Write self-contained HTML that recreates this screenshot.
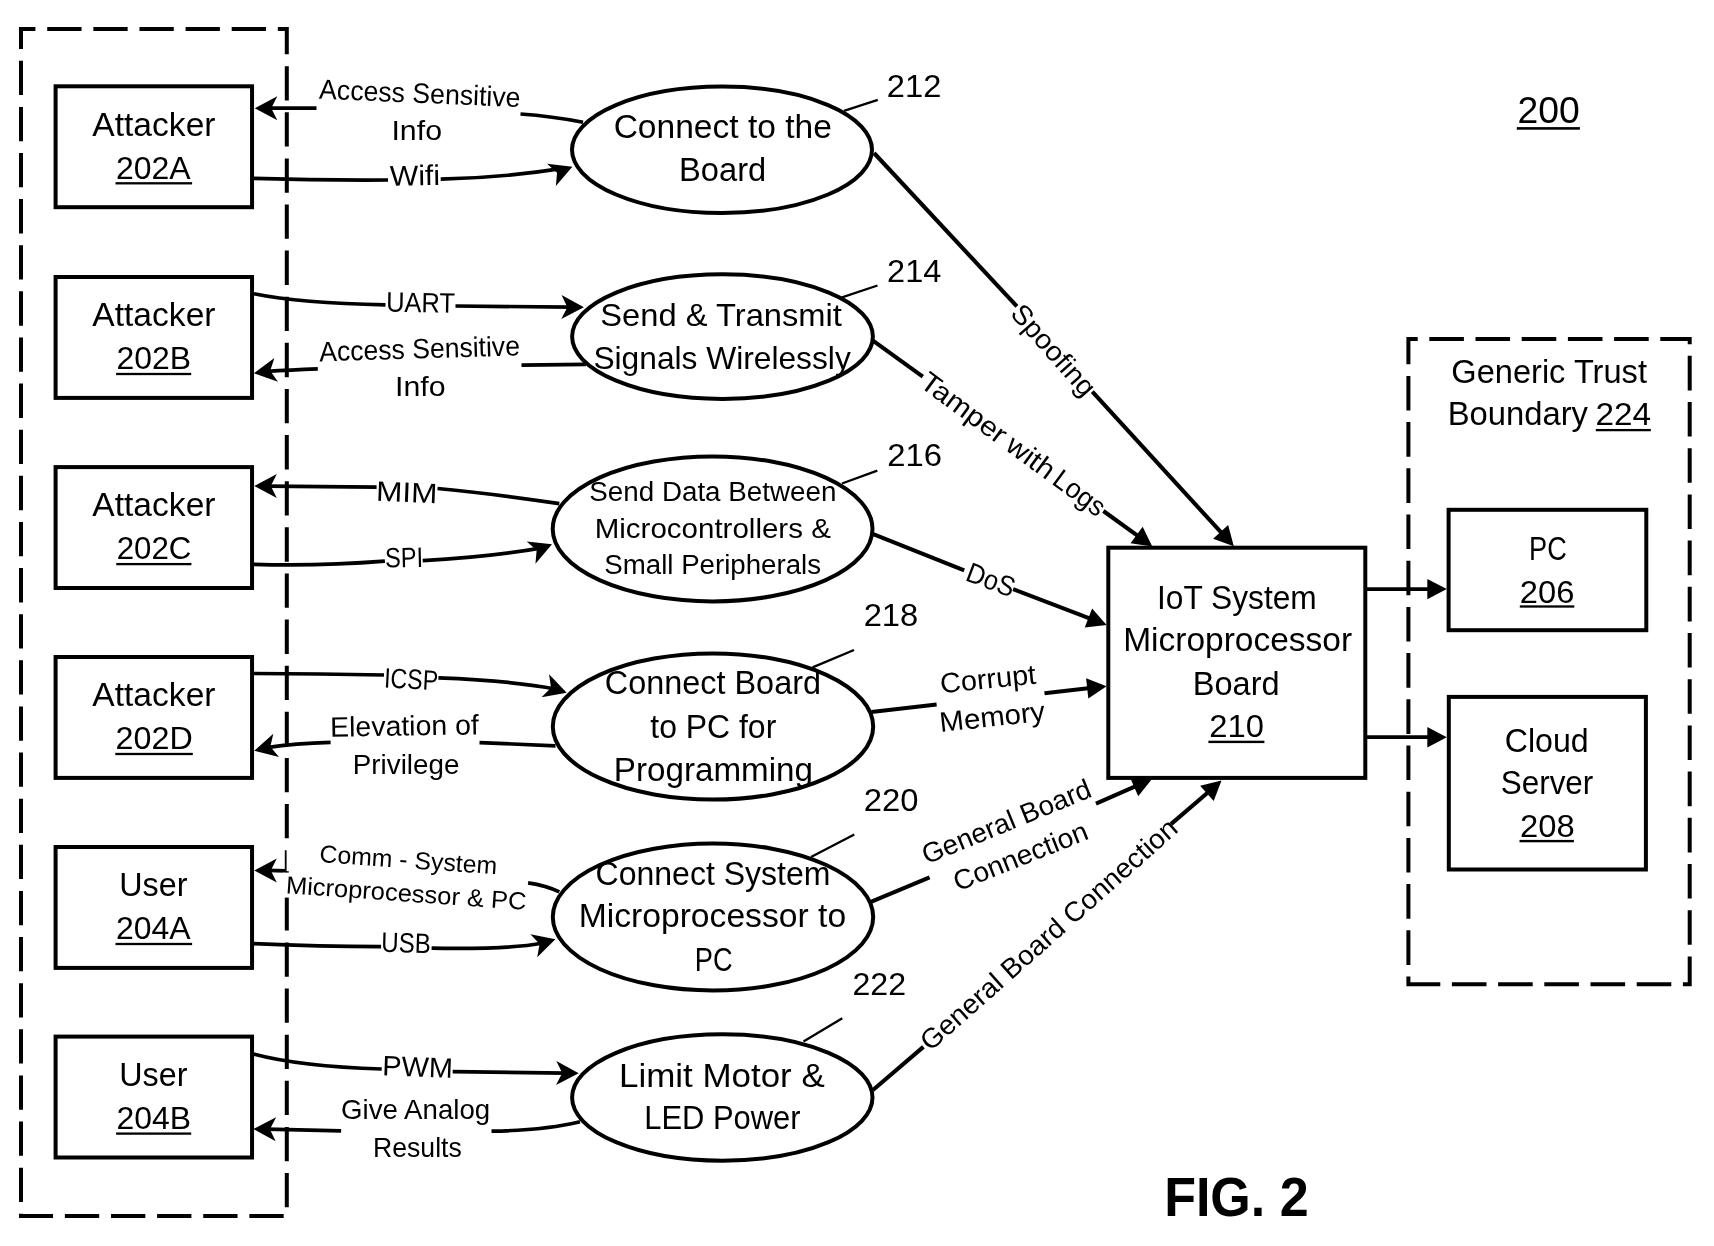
<!DOCTYPE html>
<html><head><meta charset="utf-8"><title>FIG. 2</title>
<style>
html,body{margin:0;padding:0;background:#fff;}
body{width:1714px;height:1246px;overflow:hidden;}
svg{display:block;filter:blur(0.3px);}
text{font-family:"Liberation Sans",sans-serif;white-space:pre;}
</style></head><body>
<svg width="1714" height="1246" viewBox="0 0 1714 1246">
<rect x="0" y="0" width="1714" height="1246" fill="#ffffff"/>
<path d="M21 29 H286.8 V1216 H21 Z" fill="none" stroke="#000000" stroke-width="4" stroke-dasharray="34.3 11.82" stroke-dashoffset="19.9"/>
<path d="M1408.4 986.2 V339 H1689.7 V984.2 H1408.4" fill="none" stroke="#000000" stroke-width="4" stroke-dasharray="34.6 11.6" stroke-dashoffset="24.9"/>
<rect x="55.6" y="86.3" width="196.45" height="120.9" fill="none" stroke="#000000" stroke-width="4"/>
<rect x="55.6" y="277" width="196.45" height="120.9" fill="none" stroke="#000000" stroke-width="4"/>
<rect x="55.6" y="467.1" width="196.45" height="120.9" fill="none" stroke="#000000" stroke-width="4"/>
<rect x="55.6" y="657" width="196.45" height="120.9" fill="none" stroke="#000000" stroke-width="4"/>
<rect x="55.6" y="847" width="196.45" height="120.9" fill="none" stroke="#000000" stroke-width="4"/>
<rect x="55.6" y="1036.6" width="196.45" height="120.9" fill="none" stroke="#000000" stroke-width="4"/>
<rect x="1108.3" y="547.7" width="257" height="230.2" fill="none" stroke="#000000" stroke-width="4"/>
<rect x="1448.6" y="509.8" width="197.7" height="120.4" fill="none" stroke="#000000" stroke-width="4"/>
<rect x="1448.8" y="696.9" width="197.1" height="172.6" fill="none" stroke="#000000" stroke-width="4"/>
<ellipse cx="722" cy="149.8" rx="150" ry="63.2" fill="none" stroke="#000000" stroke-width="4"/>
<ellipse cx="722.5" cy="336.6" rx="150.4" ry="62.3" fill="none" stroke="#000000" stroke-width="4"/>
<ellipse cx="712.6" cy="528.9" rx="159.9" ry="72.5" fill="none" stroke="#000000" stroke-width="4"/>
<ellipse cx="713" cy="726.5" rx="160.2" ry="73.1" fill="none" stroke="#000000" stroke-width="4"/>
<ellipse cx="713" cy="917" rx="160.2" ry="73.5" fill="none" stroke="#000000" stroke-width="4"/>
<ellipse cx="722.3" cy="1097.5" rx="150.2" ry="63.2" fill="none" stroke="#000000" stroke-width="4"/>
<path d="M583 122.2 Q552 116.2 520.5 114" fill="none" stroke="#000000" stroke-width="3.7" />
<path d="M316.5 108.2 L268 108.2" fill="none" stroke="#000000" stroke-width="3.7" />
<polygon points="254.8,108.2 277.3,96.2 271.3,108.2 277.3,120.2" fill="#000000"/>
<path d="M253.9 178.4 Q320 180.4 388 180" fill="none" stroke="#000000" stroke-width="3.7" />
<path d="M440.7 179.2 Q504 177.7 564.5 168.2" fill="none" stroke="#000000" stroke-width="3.7" />
<polygon points="572.4,166.7 555.86,186.11 557.05,172.75 547.07,163.78" fill="#000000"/>
<path d="M253.9 293.8 Q300 303.2 385.5 304.8" fill="none" stroke="#000000" stroke-width="3.7" />
<path d="M455.5 306 L570.9 307.16" fill="none" stroke="#000000" stroke-width="3.7" />
<polygon points="583.9,307.3 561.28,319.06 567.4,307.13 561.53,295.07" fill="#000000"/>
<path d="M586 364.3 L521.5 365.2" fill="none" stroke="#000000" stroke-width="3.7" />
<path d="M317.8 368.8 Q290 369.8 266.76 371.38" fill="none" stroke="#000000" stroke-width="3.7" />
<polygon points="253.9,373.3 274.38,358.11 270.22,370.86 277.93,381.84" fill="#000000"/>
<path d="M559.3 503.7 Q493.6 493.7 437.5 488.5" fill="none" stroke="#000000" stroke-width="3.7" />
<path d="M376.6 487.2 L267.3 486.1" fill="none" stroke="#000000" stroke-width="3.7" />
<polygon points="254.3,486.1 276.8,474.1 270.8,486.1 276.8,498.1" fill="#000000"/>
<path d="M253.9 564.4 Q320 566.3 384.9 561.2" fill="none" stroke="#000000" stroke-width="3.7" />
<path d="M422.7 560.6 Q490 556.9 543.63 547.6" fill="none" stroke="#000000" stroke-width="3.7" />
<polygon points="552,544.3 535.46,563.71 536.65,550.35 526.67,541.38" fill="#000000"/>
<path d="M253.9 673.5 Q320 673.8 384 675" fill="none" stroke="#000000" stroke-width="3.7" />
<path d="M438.4 677.9 Q510 680.5 554.35 688.74" fill="none" stroke="#000000" stroke-width="3.7" />
<polygon points="566.7,692.8 541.58,697.17 551.03,687.65 549.07,674.37" fill="#000000"/>
<path d="M555.5 745.8 L479.5 742.6" fill="none" stroke="#000000" stroke-width="3.7" />
<path d="M330.6 742.4 Q295 743.5 266.93 747.62" fill="none" stroke="#000000" stroke-width="3.7" />
<polygon points="254.3,750.7 273.32,733.71 270.33,746.79 279,757.03" fill="#000000"/>
<path d="M559.3 891.8 Q546 885.5 528.1 882.8" fill="none" stroke="#000000" stroke-width="3.7" />
<path d="M286 870.8 L267.3 870.4" fill="none" stroke="#000000" stroke-width="3.7" />
<polygon points="254.3,870.4 276.8,858.4 270.8,870.4 276.8,882.4" fill="#000000"/>
<path d="M253.9 943.7 Q320 946.5 381.1 946.7" fill="none" stroke="#000000" stroke-width="3.7" />
<path d="M431.6 948.2 Q510 949.5 542.94 942.99" fill="none" stroke="#000000" stroke-width="3.7" />
<polygon points="555.4,939.3 537.23,957.2 539.58,943.99 530.42,934.18" fill="#000000"/>
<path d="M253.4 1054 Q300 1066.5 381.7 1069" fill="none" stroke="#000000" stroke-width="3.7" />
<path d="M452.7 1071.6 L565.7 1073.12" fill="none" stroke="#000000" stroke-width="3.7" />
<polygon points="578.7,1073.3 556.03,1084.98 562.2,1073.07 556.37,1060.99" fill="#000000"/>
<path d="M580 1121.7 Q545 1130.2 491.5 1131.2" fill="none" stroke="#000000" stroke-width="3.7" />
<path d="M341.1 1130.8 L266.4 1129.17" fill="none" stroke="#000000" stroke-width="3.7" />
<polygon points="253.4,1128.9 276.15,1117.37 269.9,1129.25 275.64,1141.37" fill="#000000"/>
<path d="M874 153 L1016.9 306.4" fill="none" stroke="#000000" stroke-width="4.1" />
<path d="M1092.3 391.7 L1225.7 537.45" fill="none" stroke="#000000" stroke-width="4.1" />
<polygon points="1233.8,546.3 1213.11,538.8 1228.16,525.03" fill="#000000"/>
<path d="M872.6 340.3 L922.8 376.7" fill="none" stroke="#000000" stroke-width="4.1" />
<path d="M1103.4 511 L1142.64 539.38" fill="none" stroke="#000000" stroke-width="4.1" />
<polygon points="1152.3,546.5 1130.55,543.14 1142.66,526.72" fill="#000000"/>
<path d="M872.6 533.9 L964.2 570.3" fill="none" stroke="#000000" stroke-width="4.1" />
<path d="M1013.1 589.1 L1095.42 620.65" fill="none" stroke="#000000" stroke-width="4.1" />
<polygon points="1106.6,625 1084.73,627.43 1092.13,608.42" fill="#000000"/>
<path d="M871.4 712 L936.6 704.5" fill="none" stroke="#000000" stroke-width="4.1" />
<path d="M1044.5 693.2 L1094.67 687.51" fill="none" stroke="#000000" stroke-width="4.1" />
<polygon points="1106.6,686.2 1088.33,698.47 1086.1,678.19" fill="#000000"/>
<path d="M870.9 901.9 L929.6 877.3" fill="none" stroke="#000000" stroke-width="4.1" />
<path d="M1096 803.7 L1141 783.9" fill="none" stroke="#000000" stroke-width="4.1" />
<polygon points="1152,779.1 1138.21,796.25 1130.05,777.56" fill="#000000"/>
<path d="M873 1090 L923.4 1046.9" fill="none" stroke="#000000" stroke-width="4.1" />
<path d="M1171 824.1 L1212.53 788.47" fill="none" stroke="#000000" stroke-width="4.1" />
<polygon points="1221.5,780.5 1213.69,801.08 1200.15,785.82" fill="#000000"/>
<path d="M1367 589.1 L1432 589.1" fill="none" stroke="#000000" stroke-width="3.7" />
<polygon points="1446.8,589.1 1427.3,599.3 1427.3,578.9" fill="#000000"/>
<path d="M1367 737.2 L1432 737.2" fill="none" stroke="#000000" stroke-width="3.7" />
<polygon points="1446.8,737.2 1427.3,747.4 1427.3,727" fill="#000000"/>
<path d="M844 110.8 L877.8 99.9" fill="none" stroke="#000000" stroke-width="2.3" />
<path d="M842 297.3 L877.5 285.5" fill="none" stroke="#000000" stroke-width="2.3" />
<path d="M842 483.5 L877.3 470.7" fill="none" stroke="#000000" stroke-width="2.3" />
<path d="M812.6 667.4 L854 650" fill="none" stroke="#000000" stroke-width="2.3" />
<path d="M811 856.9 L854.3 834.4" fill="none" stroke="#000000" stroke-width="2.3" />
<path d="M803.5 1041.5 L842.3 1018.2" fill="none" stroke="#000000" stroke-width="2.3" />
<text transform="translate(92.3 135.6) translate(0 0) scale(1.0368 1)" font-size="32.41" fill="#000000">Attacker</text>
<text transform="translate(117.4 178.6) translate(-1.5 0) scale(1.0156 1)" font-size="31.47" fill="#000000">202A</text>
<rect x="115.5" y="182.15" width="76.6" height="2.3" fill="#000000"/>
<text transform="translate(92.3 326.3) translate(0 0) scale(1.0368 1)" font-size="32.41" fill="#000000">Attacker</text>
<text transform="translate(118 369.3) translate(-1.5 0) scale(1.0142 1)" font-size="31.47" fill="#000000">202B</text>
<rect x="116.1" y="372.85" width="75.1" height="2.3" fill="#000000"/>
<text transform="translate(92.3 516.4) translate(0 0) scale(1.0368 1)" font-size="32.41" fill="#000000">Attacker</text>
<text transform="translate(118.1 559.4) translate(-1.47 0) scale(0.9936 1)" font-size="31.47" fill="#000000">202C</text>
<rect x="116.3" y="562.95" width="75.1" height="2.3" fill="#000000"/>
<text transform="translate(92.3 706.3) translate(0 0) scale(1.0368 1)" font-size="32.41" fill="#000000">Attacker</text>
<text transform="translate(117.1 749.3) translate(-1.51 0) scale(1.0253 1)" font-size="31.47" fill="#000000">202D</text>
<rect x="115.3" y="752.85" width="77.5" height="2.3" fill="#000000"/>
<text transform="translate(121.3 896.3) translate(-2.02 0) scale(0.9962 1)" font-size="32.41" fill="#000000">User</text>
<text transform="translate(117.4 939.3) translate(-1.5 0) scale(1.0156 1)" font-size="31.47" fill="#000000">204A</text>
<rect x="115.5" y="942.85" width="76.6" height="2.3" fill="#000000"/>
<text transform="translate(121.3 1085.9) translate(-2.02 0) scale(0.9962 1)" font-size="32.41" fill="#000000">User</text>
<text transform="translate(118 1128.9) translate(-1.5 0) scale(1.0142 1)" font-size="31.47" fill="#000000">204B</text>
<rect x="116.1" y="1132.45" width="75.1" height="2.3" fill="#000000"/>
<text transform="translate(615.2 138.3) translate(-1.57 0) scale(1.0356 1)" font-size="32.41" fill="#000000">Connect to the</text>
<text transform="translate(681.6 181.4) translate(-2.55 0) scale(1.0080 1)" font-size="32.41" fill="#000000">Board</text>
<text transform="translate(601.3 325.8) translate(-1.02 0) scale(1.0226 1)" font-size="31.98" fill="#000000">Send &amp; Transmit</text>
<text transform="translate(594.4 368.7) translate(-0.99 0) scale(0.9921 1)" font-size="31.98" fill="#000000">Signals Wirelessly</text>
<text transform="translate(590.2 500.8) translate(-0.87 0) scale(1.0060 1)" font-size="27.62" fill="#000000">Send Data Between</text>
<text transform="translate(597 537.6) translate(-2.31 0) scale(1.0685 1)" font-size="27.62" fill="#000000">Microcontrollers &amp;</text>
<text transform="translate(605.2 574) translate(-0.86 0) scale(1.0015 1)" font-size="27.62" fill="#000000">Small Peripherals</text>
<text transform="translate(606.3 694.4) translate(-1.52 0) scale(1.0001 1)" font-size="32.41" fill="#000000">Connect Board</text>
<text transform="translate(650.3 738.1) translate(0 0) scale(0.9856 1)" font-size="32.41" fill="#000000">to PC for</text>
<text transform="translate(616.4 780.5) translate(-2.59 0) scale(1.0243 1)" font-size="32.41" fill="#000000">Programming</text>
<text transform="translate(597 884.8) translate(-1.5 0) scale(0.9885 1)" font-size="32.41" fill="#000000">Connect System</text>
<text transform="translate(581.3 927.3) translate(-2.63 0) scale(1.0389 1)" font-size="32.41" fill="#000000">Microprocessor to</text>
<text transform="translate(696.9 970.5) translate(-2.12 0) scale(0.8388 1)" font-size="32.41" fill="#000000">PC</text>
<text transform="translate(621.7 1086.7) translate(-2.73 0) scale(1.0785 1)" font-size="32.41" fill="#000000">Limit Motor &amp;</text>
<text transform="translate(646.7 1129.3) translate(-2.42 0) scale(0.9539 1)" font-size="32.41" fill="#000000">LED Power</text>
<text transform="translate(1159.5 608.8) translate(-2.48 0) scale(0.9788 1)" font-size="32.41" fill="#000000">IoT System</text>
<text transform="translate(1125.8 651.4) translate(-2.62 0) scale(1.0340 1)" font-size="32.41" fill="#000000">Microprocessor</text>
<text transform="translate(1195.3 694.6) translate(-2.54 0) scale(1.0044 1)" font-size="32.41" fill="#000000">Board</text>
<text transform="translate(1210.8 737.2) translate(-1.54 0) scale(1.0409 1)" font-size="31.47" fill="#000000">210</text>
<rect x="1208.4" y="740.7" width="56" height="2.4" fill="#000000"/>
<text transform="translate(1531.2 559.7) translate(-2.12 0) scale(0.8363 1)" font-size="32.41" fill="#000000">PC</text>
<text transform="translate(1521.3 602.9) translate(-1.53 0) scale(1.0391 1)" font-size="31.47" fill="#000000">206</text>
<rect x="1519.8" y="605.35" width="54.5" height="2.3" fill="#000000"/>
<text transform="translate(1506.2 751.5) translate(-1.51 0) scale(0.9920 1)" font-size="32.41" fill="#000000">Cloud</text>
<text transform="translate(1501.7 794.3) translate(-0.98 0) scale(0.9704 1)" font-size="32.41" fill="#000000">Server</text>
<text transform="translate(1521.5 837) translate(-1.54 0) scale(1.0411 1)" font-size="31.47" fill="#000000">208</text>
<rect x="1519.5" y="839.9" width="54.4" height="2.4" fill="#000000"/>
<text transform="translate(1452.8 382.5) translate(-1.53 0) scale(0.9928 1)" font-size="32.85" fill="#000000">Generic Trust</text>
<text transform="translate(1450.2 425.2) translate(-2.56 0) scale(0.9982 1)" font-size="32.85" fill="#000000">Boundary</text>
<text transform="translate(1597.1 425) translate(-1.56 0) scale(1.0467 1)" font-size="31.83" fill="#000000">224</text>
<rect x="1595.8" y="428.95" width="55" height="2.3" fill="#000000"/>
<text transform="translate(1519.3 123.3) translate(-1.75 0) scale(1.0355 1)" font-size="36.05" fill="#000000">200</text>
<rect x="1516.8" y="127.1" width="63.1" height="2.6" fill="#000000"/>
<text transform="translate(1167.4 1216.1) translate(-3.25 0) scale(0.9297 1)" font-size="55.96" font-weight="bold" fill="#000000">FIG. 2</text>
<text transform="translate(888.4 97) translate(-1.53 0) scale(1.0371 1)" font-size="31.47" fill="#000000">212</text>
<text transform="translate(888.6 281.5) translate(-1.52 0) scale(1.0329 1)" font-size="31.47" fill="#000000">214</text>
<text transform="translate(888.7 465.5) translate(-1.54 0) scale(1.0431 1)" font-size="31.47" fill="#000000">216</text>
<text transform="translate(865.2 626) translate(-1.54 0) scale(1.0411 1)" font-size="31.47" fill="#000000">218</text>
<text transform="translate(865.2 811.4) translate(-1.54 0) scale(1.0429 1)" font-size="31.47" fill="#000000">220</text>
<text transform="translate(854 994.6) translate(-1.51 0) scale(1.0210 1)" font-size="31.47" fill="#000000">222</text>
<text transform="translate(318.8 98.8) rotate(2.34) translate(0 0) scale(0.9510 1)" font-size="28.05" fill="#000000">Access Sensitive</text>
<text transform="translate(393.8 140) translate(-2.37 0) scale(1.0814 1)" font-size="28.05" fill="#000000">Info</text>
<text transform="translate(390 185.7) rotate(-0.95) translate(0 0) scale(1.0575 1)" font-size="28.49" fill="#000000">Wifi</text>
<text transform="translate(387.5 311.6) rotate(1.03) translate(-1.6 0) scale(0.9102 1)" font-size="28.05" fill="#000000">UART</text>
<text transform="translate(319.6 361.4) rotate(-1.72) translate(0 0) scale(0.9469 1)" font-size="28.05" fill="#000000">Access Sensitive</text>
<text transform="translate(397.4 395.6) translate(-2.37 0) scale(1.0814 1)" font-size="28.05" fill="#000000">Info</text>
<text transform="translate(378.1 500.9) rotate(2.22) translate(-2.47 0) scale(1.1268 1)" font-size="28.05" fill="#000000">MIM</text>
<text transform="translate(386.1 567.6) rotate(-1.31) translate(-0.74 0) scale(0.8398 1)" font-size="28.05" fill="#000000">SPI</text>
<text transform="translate(385.5 687.5) rotate(3.02) translate(-1.81 0) scale(0.8240 1)" font-size="28.05" fill="#000000">ICSP</text>
<text transform="translate(332.5 736.7) rotate(-0.94) translate(-2.22 0) scale(1.0147 1)" font-size="28.05" fill="#000000">Elevation of</text>
<text transform="translate(355 773.8) translate(-2.17 0) scale(0.9909 1)" font-size="28.05" fill="#000000">Privilege</text>
<rect x="286.6" y="848.7" width="6" height="22.5" fill="#fff"/>
<rect x="283" y="872.6" width="12" height="25" fill="#fff"/>
<text transform="translate(320.2 862.2) rotate(3.92) translate(-1.16 0) scale(1.0114 1)" font-size="24.56" fill="#000000">Comm - System</text>
<text transform="translate(287.5 893.4) rotate(3.95) translate(-1.99 0) scale(1.0388 1)" font-size="24.56" fill="#000000">Microprocessor &amp; PC</text>
<text transform="translate(382.6 951.9) rotate(1.71) translate(-1.5 0) scale(0.8570 1)" font-size="28.05" fill="#000000">USB</text>
<text transform="translate(384.3 1075.4) rotate(2.07) translate(-2.26 0) scale(1.0305 1)" font-size="28.05" fill="#000000">PWM</text>
<text transform="translate(342.4 1119.4) translate(-1.3 0) scale(0.9757 1)" font-size="28.34" fill="#000000">Give Analog</text>
<text transform="translate(375.1 1156.7) translate(-2.08 0) scale(0.9495 1)" font-size="28.05" fill="#000000">Results</text>
<text transform="translate(1009.77 314.89) rotate(48.46) translate(-0.89 0) scale(1.0326 1)" font-size="27.62" fill="#000000">Spoofing</text>
<text transform="translate(918.57 386.05) rotate(36.35) translate(-0.47 0) scale(1.0850 1)" font-size="27.62" fill="#000000">Tamper</text>
<text transform="translate(1003.7 448.71) rotate(36.35) translate(0.47 0) scale(1.0814 1)" font-size="27.62" fill="#000000">with</text>
<text transform="translate(1052.43 484.57) rotate(36.35) translate(-2.08 0) scale(0.9637 1)" font-size="27.62" fill="#000000">Logs</text>
<text transform="translate(966 580.71) rotate(20.84) translate(-2 0) scale(0.9112 1)" font-size="28.05" fill="#000000">DoS</text>
<text transform="translate(942.4 693) rotate(-5.67) translate(-1.35 0) scale(1.0297 1)" font-size="28.05" fill="#000000">Corrupt</text>
<text transform="translate(942.9 731.8) rotate(-6.25) translate(-2.29 0) scale(1.0464 1)" font-size="28.05" fill="#000000">Memory</text>
<text transform="translate(927.6 864.1) rotate(-22.26) translate(-1.3 0) scale(1.0049 1)" font-size="27.62" fill="#000000">General Board</text>
<text transform="translate(959 890.9) rotate(-21.77) translate(-1.32 0) scale(1.0204 1)" font-size="27.62" fill="#000000">Connection</text>
<text transform="translate(931.17 1051.23) rotate(-41.57) translate(-1.32 0) scale(1.0197 1)" font-size="27.62" fill="#000000">General Board Connection</text>
</svg>
</body></html>
